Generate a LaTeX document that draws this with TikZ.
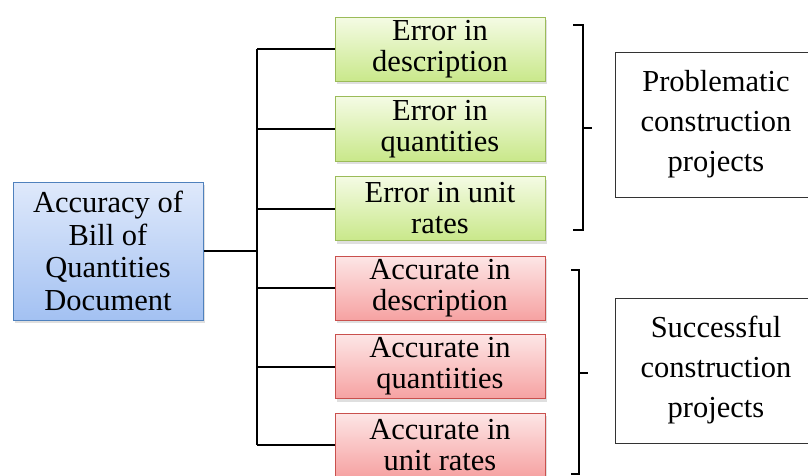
\documentclass[tikz,border=0pt]{standalone}
\usepackage{fontspec}
\setmainfont{Liberation Serif}
\newfontfamily\boxfont{Liberation Serif}
\usetikzlibrary{shadows}

\definecolor{errtop}{HTML}{F4FBE4}
\definecolor{errbot}{HTML}{C9E88A}
\definecolor{errline}{HTML}{9BBB59}
\definecolor{acctop}{HTML}{FDE6E6}
\definecolor{accbot}{HTML}{F6A2A2}
\definecolor{accline}{HTML}{C9504D}
\definecolor{boqtop}{HTML}{DFE9FB}
\definecolor{boqbot}{HTML}{A3C1F2}
\definecolor{boqline}{HTML}{4F81BD}

\begin{document}
\begin{tikzpicture}[x = 1pt, y = -1pt,
	box/.style = {draw, line width = 1pt, align = center, inner sep = 0pt,
		drop shadow = {shadow xshift = 2pt, shadow yshift = -3pt, opacity = 0.25}},
	cause/.style = {box, minimum width = 210pt, minimum height = 64pt,
		font = \boxfont\fontsize{30.5}{31}\selectfont},
	errbox/.style = {cause, draw = errline, top color = errtop, bottom color = errbot},
	accbox/.style = {cause, draw = accline, top color = acctop, bottom color = accbot},
	outbox/.style = {draw = black!80, line width = 0.8pt, align = center,
		minimum width = 202pt, minimum height = 145pt,
		font = \boxfont\fontsize{30.5}{40}\selectfont},
	link/.style = {line width = 2pt},
	brace/.style = {line width = 1.5pt}
]
\useasboundingbox (0,0) rectangle (808,476);

% source
\node[box, draw = boqline, top color = boqtop, bottom color = boqbot,
	minimum width = 190pt, minimum height = 138pt,
	font = \boxfont\fontsize{30.5}{32.5}\selectfont] (boq) at (108,251)
	{Accuracy of\\Bill of\\Quantities\\Document};

% causes
\node[errbox] (err1) at (440,49.5) {Error in\\description};
\node[errbox] (err2) at (440,129) {Error in\\quantities};
\node[errbox] (err3) at (440,208.5) {Error in unit\\rates};
\node[accbox] (acc1) at (440,288) {Accurate in\\description};
\node[accbox] (acc2) at (440,366.5) {Accurate in\\quantiities};
\node[accbox] (acc3) at (440,445) {Accurate in\\unit rates};

% outcomes
\node[outbox] (prob) at (716,124.5) {Problematic\\construction\\projects};
\node[outbox] (succ) at (716,370.5) {Successful\\construction\\projects};

% tree
\coordinate (jn) at (257,251);
\draw[link] (boq.east) -- (jn);
\draw[link] (jn |- err1.west) -- (jn |- acc3.west);
\foreach \b in {err1, err2, err3, acc1, acc2, acc3}
{
	\draw[link] (jn |- \b.west) -- (\b.west);
}

% braces
\draw[brace] (573,25) -- (583,25) -- (583,230) -- (573,230);
\draw[brace] (583,128) -- (592,128);
\draw[brace] (571,270) -- (579,270) -- (579,474) -- (571,474);
\draw[brace] (579,373) -- (588,373);
\end{tikzpicture}
\end{document}
